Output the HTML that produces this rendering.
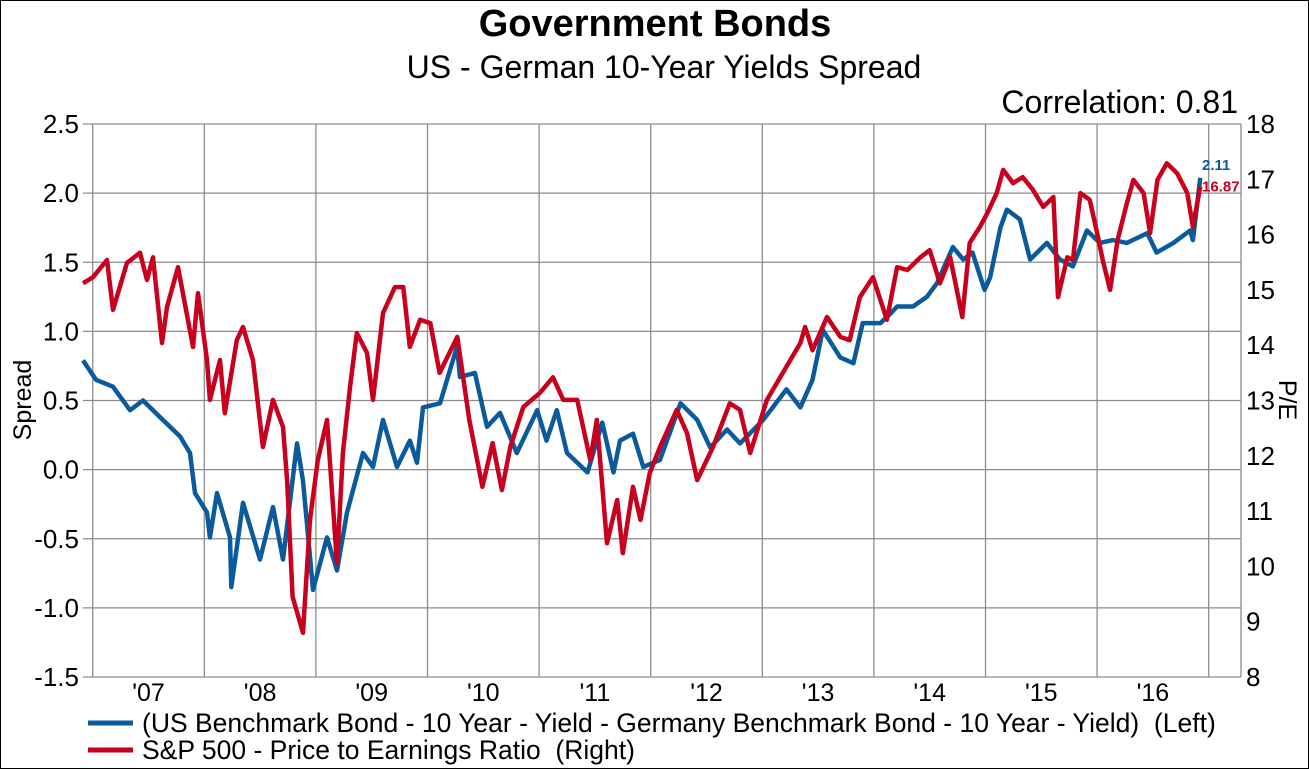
<!DOCTYPE html>
<html><head><meta charset="utf-8"><style>
html,body{margin:0;padding:0;background:#fff;}
svg{display:block;font-family:"Liberation Sans",Arial,sans-serif;}
</style></head><body>
<svg id="chart" width="1309" height="769" viewBox="0 0 1309 769">
<rect x="0.5" y="0.5" width="1308" height="768" fill="#fff" stroke="#000"/>
<text x="655" y="36" text-anchor="middle" font-size="38" font-weight="bold">Government Bonds</text>
<text x="664" y="78" text-anchor="middle" font-size="32">US - German 10-Year Yields Spread</text>
<text x="1238" y="113" text-anchor="end" font-size="32">Correlation: 0.81</text>
<g id="grid"></g>
<g id="series"></g>
<g id="axes"></g>
<text transform="translate(31,400) rotate(-90)" text-anchor="middle" font-size="25">Spread</text>
<text transform="translate(1279,400) rotate(90)" text-anchor="middle" font-size="25">P/E</text>
<g>
<line x1="88" y1="723" x2="133" y2="723" stroke="#0a5a9c" stroke-width="5"/>
<text x="142" y="732" font-size="26.5" xml:space="preserve">(US Benchmark Bond - 10 Year - Yield - Germany Benchmark Bond - 10 Year - Yield)  (Left)</text>
<line x1="88" y1="750" x2="133" y2="750" stroke="#c8001e" stroke-width="5"/>
<text x="142" y="759" font-size="26.5" xml:space="preserve">S&amp;P 500 - Price to Earnings Ratio  (Right)</text>
</g>
</svg>
<script>
// months since Jan 2007
const spreadMonths=[-1.04,0.35,2.18,4.01,5.41,7.24,9.39,10.46,11.0,12.29,12.6,13.37,14.76,14.9,16.16,17.99,19.39,20.46,21.97,22.61,23.69,25.19,26.27,27.34,29.06,30.14,31.21,32.72,34.11,34.87,35.52,37.34,39.17,39.5,41.1,42.4,43.8,45.6,47.8,48.8,49.9,51.0,53.2,54.8,56.0,56.7,58.1,59.2,61.0,63.2,65.0,66.4,68.2,69.6,72.1,74.6,76.1,77.4,78.5,80.4,81.8,82.8,84.7,85.8,86.5,88.2,89.7,90.8,92.5,93.6,94.6,95.9,96.5,97.6,98.3,99.7,100.8,102.6,104.0,105.4,106.9,108.3,109.7,111.2,113.4,114.4,116.2,118.0,118.3,119.1];
const spreadValues=[0.79,0.65,0.60,0.43,0.50,0.38,0.24,0.12,-0.17,-0.31,-0.49,-0.17,-0.49,-0.85,-0.24,-0.65,-0.27,-0.65,0.19,-0.08,-0.87,-0.49,-0.73,-0.31,0.12,0.02,0.36,0.02,0.21,0.05,0.45,0.48,0.89,0.67,0.70,0.31,0.41,0.12,0.43,0.21,0.43,0.12,-0.02,0.34,-0.02,0.21,0.26,0.02,0.07,0.48,0.36,0.16,0.29,0.19,0.36,0.58,0.45,0.65,1.01,0.81,0.77,1.06,1.06,1.13,1.18,1.18,1.25,1.35,1.61,1.52,1.57,1.30,1.39,1.75,1.88,1.81,1.52,1.64,1.52,1.47,1.73,1.64,1.66,1.64,1.71,1.57,1.64,1.73,1.66,2.11];
const peMonths=[-1.04,0.03,1.54,2.18,3.69,5.09,5.84,6.48,7.45,7.99,9.17,10.78,11.32,12.29,12.6,13.69,14.2,15.5,16.16,17.24,18.3,19.39,20.46,20.9,21.5,22.61,23.37,24.2,25.19,26.27,26.9,27.67,28.4,29.5,30.14,31.21,32.5,33.4,34.1,35.2,36.3,37.3,39.2,40.5,41.9,43.0,44.0,44.9,46.3,48.1,49.5,50.6,52.1,53.5,54.2,55.3,56.4,57.0,58.1,58.9,59.9,61.0,62.8,63.9,65.0,66.7,68.5,69.6,70.7,72.5,74.2,76.1,76.6,77.4,78.96,80.4,81.4,82.5,83.9,84.7,85.4,86.5,87.6,89.0,90.0,91.1,92.2,93.5,94.3,95.4,96.2,97.2,97.9,98.97,100.0,101.1,102.2,103.3,103.8,104.8,105.4,106.2,107.2,108.0,108.6,109.4,110.2,111.2,111.9,113.0,113.7,114.5,115.5,116.6,117.7,118.3,119.1];
const peValues=[15.12,15.23,15.54,14.64,15.49,15.67,15.18,15.59,14.04,14.69,15.41,13.97,14.94,13.73,13.01,13.73,12.77,14.09,14.33,13.73,12.16,13.01,12.52,11.56,9.45,8.80,10.84,11.92,12.65,10.06,12.05,13.24,14.22,13.86,13.01,14.58,15.05,15.05,13.97,14.46,14.40,13.50,14.15,12.65,11.44,12.23,11.38,12.16,12.88,13.14,13.42,13.01,13.01,11.92,12.65,10.42,11.20,10.24,11.44,10.84,11.69,12.16,12.83,12.41,11.56,12.16,12.95,12.83,12.05,13.01,13.50,14.04,14.33,13.91,14.51,14.15,14.09,14.87,15.23,14.82,14.46,15.41,15.36,15.59,15.72,15.12,15.59,14.51,15.85,16.14,16.39,16.75,17.17,16.93,17.04,16.81,16.50,16.68,14.87,15.59,15.54,16.75,16.63,16.03,15.54,15.00,15.90,16.57,16.99,16.75,16.03,16.99,17.29,17.11,16.75,16.14,16.87];
const leftTicks=[2.5,2.0,1.5,1.0,0.5,0.0,-0.5,-1.0,-1.5];
const rightTicks=[18,17,16,15,14,13,12,11,10,9,8];
const yearLabels=["'07","'08","'09","'10","'11","'12","'13","'14","'15","'16"];

const NS="http://www.w3.org/2000/svg";
const PL=83,PR=1241,PT=124,PB=677;
const xM=m=>92.7+m*(111.6/12);
const yL=v=>PT+(2.5-v)*(PB-PT)/4;
const yR=v=>PT+(18-v)*(PB-PT)/10;
function mk(tag,attrs,parent){const e=document.createElementNS(NS,tag);for(const k in attrs)e.setAttribute(k,attrs[k]);parent.appendChild(e);return e;}
const grid=document.getElementById('grid'),axes=document.getElementById('axes'),series=document.getElementById('series');

leftTicks.forEach(v=>{
  const y=yL(v);
  const gl=mk('line',{x1:PL,x2:PR,y1:y,y2:y,stroke:'#8c8c8c','stroke-width':1.3},grid);
  
  
  const t=mk('text',{x:79,y:y+9,'text-anchor':'end','font-size':26},axes);
  t.textContent=v.toFixed(1);
  
  
});
rightTicks.forEach(v=>{
  const y=yR(v);
  const t=mk('text',{x:1246,y:y+9,'font-size':26},axes);
  t.textContent=v;
  
  
});
yearLabels.forEach((lab,i)=>{
  const xg=xM(i*12);
  const gl=mk('line',{x1:xg,x2:xg,y1:PT,y2:PB,stroke:'#8c8c8c','stroke-width':1.3},grid);
  
  
  const t=mk('text',{x:xM(i*12+6),y:701,'text-anchor':'middle','font-size':25},axes);
  t.textContent=lab;
  
  
});
const lastG=mk('line',{x1:xM(120),x2:xM(120),y1:PT,y2:PB,stroke:'#8c8c8c','stroke-width':1.3},grid);


const rAx=mk('line',{x1:PR,x2:PR,y1:PT,y2:PB,stroke:'#8c8c8c','stroke-width':1.3},grid);



function path(ms,vs,f){return ms.map((m,i)=>(i?'L':'M')+xM(m).toFixed(1)+','+f(vs[i]).toFixed(1)).join('');}
const pe=mk('path',{d:path(peMonths,peValues,yR),fill:'none',stroke:'#c8001e','stroke-width':4.5,'stroke-linejoin':'round'},series);


const sp=mk('path',{d:path(spreadMonths,spreadValues,yL),fill:'none',stroke:'#0a5a9c','stroke-width':4.5,'stroke-linejoin':'round'},series);


series.appendChild(pe);

const ls=spreadValues.length-1,lp=peValues.length-1;
const t1=mk('text',{x:1202,y:yL(spreadValues[ls])-8,'font-size':15,'font-weight':'bold',fill:'#0a5a9c'},axes);
t1.textContent=spreadValues[ls].toFixed(2);


const t2=mk('text',{x:1202,y:yR(peValues[lp])+5,'font-size':15,'font-weight':'bold',fill:'#c8001e'},axes);
t2.textContent=peValues[lp].toFixed(2);


</script>
</body></html>
